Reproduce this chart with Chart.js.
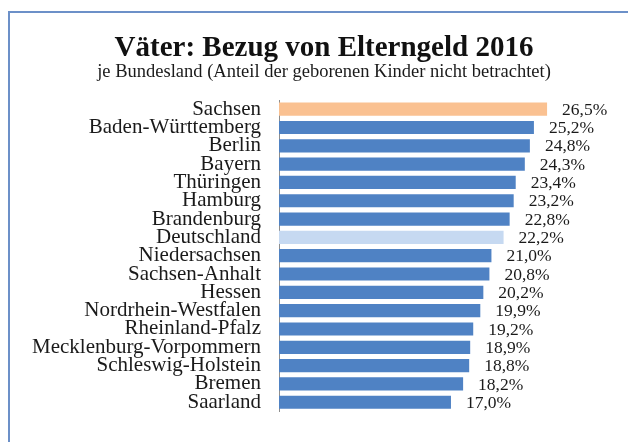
<!DOCTYPE html>
<html>
<head>
<meta charset="utf-8">
<script src="https://cdn.jsdelivr.net/npm/chart.js@4"></script>
<style>
  html, body { margin: 0; padding: 0; background: #fff; overflow: hidden; }
  .frame {
    position: absolute; left: 8px; top: 11px;
    width: 700px; height: 500px;
    border: 2px solid #6c90c8;
  }
  .wrap { position: absolute; left: 0; top: 0; width: 628px; height: 442px; }
</style>
</head>
<body>
<div class="frame"></div>
<div class="wrap"><canvas id="chart"></canvas></div>
<script>
const SERIF = "'Liberation Serif', 'Times New Roman', serif";

const laender = [
  "Sachsen", "Baden-Württemberg", "Berlin", "Bayern", "Thüringen",
  "Hamburg", "Brandenburg", "Deutschland", "Niedersachsen", "Sachsen-Anhalt",
  "Hessen", "Nordrhein-Westfalen", "Rheinland-Pfalz", "Mecklenburg-Vorpommern",
  "Schleswig-Holstein", "Bremen", "Saarland"
];
const anteil = [
  26.5, 25.2, 24.8, 24.3, 23.4,
  23.2, 22.8, 22.2, 21.0, 20.8,
  20.2, 19.9, 19.2, 18.9,
  18.8, 18.2, 17.0
];

// colours: Sachsen highlighted, Deutschland as reference
const barColors = laender.map(l =>
  l === "Sachsen" ? "#fac191" : l === "Deutschland" ? "#c6d9f1" : "#4f82c4"
);

const valueLabels = {
  id: "valueLabels",
  afterDatasetsDraw(chart) {
    const ctx = chart.ctx;
    const meta = chart.getDatasetMeta(0);
    ctx.save();
    ctx.font = "17.5px " + SERIF;
    ctx.fillStyle = "#1a1a1a";
    ctx.textAlign = "left";
    ctx.textBaseline = "middle";
    meta.data.forEach((bar, i) => {
      const txt = anteil[i].toFixed(1).replace(".", ",") + "%";
      ctx.fillText(txt, bar.x + 15, bar.y + 1);
    });
    ctx.restore();
  }
};

new Chart(document.getElementById("chart"), {
  type: "bar",
  data: {
    labels: laender,
    datasets: [{
      data: anteil,
      backgroundColor: barColors,
      borderWidth: 0,
      barPercentage: 0.72,
      categoryPercentage: 1
    }]
  },
  options: {
    indexAxis: "y",
    responsive: true,
    maintainAspectRatio: false,
    animation: false,
    layout: { padding: { left: 20, right: 0, top: 0, bottom: 20.6 } },
    scales: {
      x: { display: false, min: 0, max: 34.5 },
      y: {
        grid: { display: false, drawTicks: false },
        border: { display: true, color: "#8e8e8e", width: 1 },
        ticks: {
          color: "#1a1a1a",
          font: { family: SERIF, size: 21 },
          padding: 18,
          autoSkip: false
        },
        afterFit(scale) { scale.width = 259; }
      }
    },
    plugins: {
      legend: { display: false },
      tooltip: { enabled: false },
      title: {
        display: true,
        text: "Väter: Bezug von Elterngeld 2016",
        color: "#111",
        font: { family: SERIF, size: 29, weight: "bold", lineHeight: 1 },
        padding: { top: 34, bottom: 0 }
      },
      subtitle: {
        display: true,
        text: "je Bundesland (Anteil der geborenen Kinder nicht betrachtet)",
        color: "#1a1a1a",
        font: { family: SERIF, size: 18.5, lineHeight: 1 },
        padding: { top: 0, bottom: 18.5 }
      }
    }
  },
  plugins: [valueLabels]
});
</script>
</body>
</html>
